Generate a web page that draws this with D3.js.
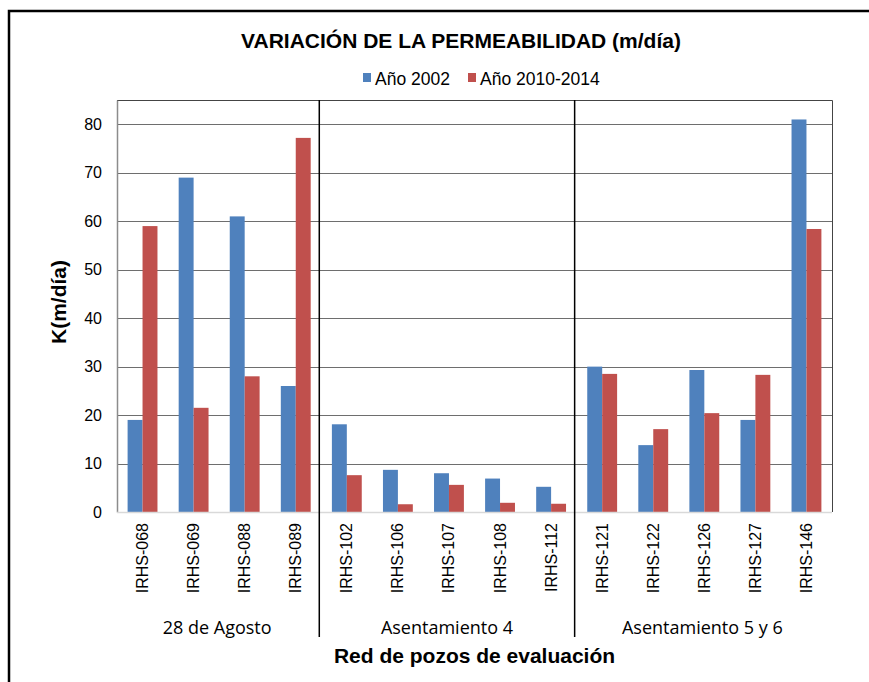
<!DOCTYPE html>
<html lang="es">
<head>
<meta charset="utf-8">
<title>Variación de la permeabilidad</title>
<script src="https://d3js.org/d3.v7.min.js"></script>
<style>
  body { margin: 0; background: #fff; }
  text { font-family: Arial, "Liberation Sans", sans-serif; }
</style>
</head>
<body>
<div id="chart"></div>
<script>

// data
var wells = ["IRHS-068","IRHS-069","IRHS-088","IRHS-089",
             "IRHS-102","IRHS-106","IRHS-107","IRHS-108","IRHS-112",
             "IRHS-121","IRHS-122","IRHS-126","IRHS-127","IRHS-146"];
var groups = ["28 de Agosto","Asentamiento 4","Asentamiento 5 y 6"];
var groupSizes = [4, 5, 5];
var k2002 = [19, 69, 61, 26, 18.1, 8.7, 8.0, 6.9, 5.2, 30, 13.8, 29.3, 19, 81];
var k2010 = [59, 21.5, 28, 77.2, 7.6, 1.6, 5.6, 1.9, 1.7, 28.5, 17.1, 20.4, 28.3, 58.4];
var seriesNames = ["Año 2002", "Año 2010-2014"];
var yTicks = [0, 10, 20, 30, 40, 50, 60, 70, 80];

var width = 869, height = 682;
var colors = ["#4f81bd", "#c0504d"];

var svg = d3.select("#chart").append("svg")
  .attr("width", width)
  .attr("height", height);

// outer frame (only left + top visible in the picture)
svg.append("path")
  .attr("d", "M9,682 L9,11 L869,11")
  .attr("fill", "none")
  .attr("stroke", "#000")
  .attr("stroke-width", 2.5);

var plot = {left: 117, top: 100, right: 832, bottom: 512};

var x = d3.scaleBand()
  .domain(wells)
  .range([plot.left, plot.right])
  .paddingInner(0)
  .paddingOuter(0);

var y = d3.scaleLinear()
  .domain([0, 85])
  .range([plot.bottom, plot.bottom - 85 * 4.846]);

// gridlines
svg.append("g")
  .selectAll("line")
  .data(yTicks.slice(1))
  .enter().append("line")
    .attr("x1", plot.left).attr("x2", plot.right)
    .attr("y1", function(d) { return Math.round(y(d)) + 0.5; })
    .attr("y2", function(d) { return Math.round(y(d)) + 0.5; })
    .attr("stroke", "#6e6e6e")
    .attr("stroke-width", 1);

// plot border top/right
svg.append("path")
  .attr("d", "M" + plot.left + "," + (plot.top + 0.5) + " H" + (plot.right + 0.5) + " V" + plot.bottom)
  .attr("fill", "none")
  .attr("stroke", "#444")
  .attr("stroke-width", 1);

// bars
var inner = d3.scaleBand()
  .domain([0, 1])
  .range([0, x.bandwidth()])
  .paddingOuter(0.71)
  .paddingInner(0);

var rows = wells.map(function(w, i) { return {well: w, vals: [k2002[i], k2010[i]]}; });

svg.append("g")
  .selectAll("g")
  .data(rows)
  .enter().append("g")
    .attr("transform", function(d) { return "translate(" + x(d.well) + ",0)"; })
  .selectAll("rect")
  .data(function(d) { return d.vals; })
  .enter().append("rect")
    .attr("x", function(d, i) { return inner(i); })
    .attr("width", inner.bandwidth())
    .attr("y", function(d) { return y(d); })
    .attr("height", function(d) { return y(0) - y(d); })
    .attr("fill", function(d, i) { return colors[i]; });

// y axis
var yAxis = svg.append("g")
  .attr("transform", "translate(" + plot.left + ",0)")
  .call(d3.axisLeft(y).tickValues(yTicks).tickSize(0).tickPadding(15));
yAxis.select(".domain").attr("stroke", "#8c8c8c").attr("stroke-width", 1.5);
yAxis.selectAll("text")
  .attr("font-size", 16)
  .attr("fill", "#000")
  .style("font-family", "Arial, 'Liberation Sans', sans-serif");

// x axis baseline
svg.append("line")
  .attr("x1", plot.left).attr("x2", plot.right)
  .attr("y1", plot.bottom + 0.5).attr("y2", plot.bottom + 0.5)
  .attr("stroke", "#d9d9d9")
  .attr("stroke-width", 1.5);

// well labels (rotated)
svg.append("g")
  .selectAll("text")
  .data(wells)
  .enter().append("text")
    .attr("transform", function(d) {
      return "translate(" + (x(d) + x.bandwidth() / 2 + 5.5) + "," + (plot.bottom + 11) + ") rotate(-90)";
    })
    .attr("text-anchor", "end")
    .attr("font-size", 16)
    .text(function(d) { return d; });

// group separators and labels
var cum = d3.cumsum(groupSizes);
var sepX = cum.slice(0, -1).map(function(c) { return x(wells[c]); });

svg.append("g")
  .selectAll("line")
  .data(sepX)
  .enter().append("line")
    .attr("x1", function(d) { return d - 2; }).attr("x2", function(d) { return d - 2; })
    .attr("y1", plot.top).attr("y2", 637)
    .attr("stroke", "#000")
    .attr("stroke-width", 1.5);

svg.append("g")
  .selectAll("text")
  .data(groups)
  .enter().append("text")
    .attr("x", function(d, i) {
      var start = i === 0 ? 0 : cum[i - 1];
      var end = cum[i];
      return (x(wells[start]) + x(wells[end - 1]) + x.bandwidth()) / 2 - 2;
    })
    .attr("y", 634)
    .attr("text-anchor", "middle")
    .attr("font-size", 18)
    .style("font-family", "'Open Sans', Lato, sans-serif")
    .text(function(d) { return d; });

// titles
svg.append("text")
  .attr("x", 461).attr("y", 48)
  .attr("text-anchor", "middle")
  .attr("font-size", 21)
  .attr("font-weight", "bold")
  .text("VARIACIÓN DE LA PERMEABILIDAD (m/día)");

svg.append("text")
  .attr("transform", "translate(66,302) rotate(-90)")
  .attr("text-anchor", "middle")
  .attr("font-size", 21)
  .attr("font-weight", "bold")
  .text("K(m/día)");

svg.append("text")
  .attr("x", (plot.left + plot.right) / 2).attr("y", 663)
  .attr("text-anchor", "middle")
  .attr("font-size", 21)
  .attr("font-weight", "bold")
  .text("Red de pozos de evaluación");

// legend
var legendX = [363, 468];
var legend = svg.append("g")
  .selectAll("g")
  .data(seriesNames)
  .enter().append("g")
    .attr("transform", function(d, i) { return "translate(" + legendX[i] + ",73)"; });
legend.append("rect")
  .attr("width", 8).attr("height", 9)
  .attr("fill", function(d, i) { return colors[i]; });
legend.append("text")
  .attr("x", 12).attr("y", 11.5)
  .attr("font-size", 17.5)
  .text(function(d) { return d; });

</script>
</body>
</html>
